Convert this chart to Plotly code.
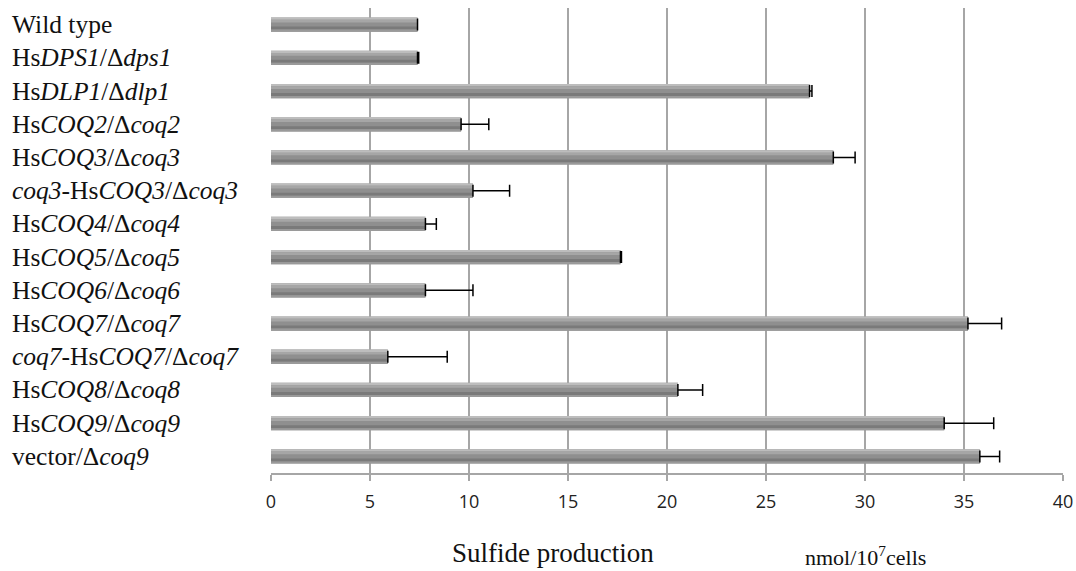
import plotly.graph_objects as go

labels = [
    "Wild type",
    "Hs<i>DPS1</i>/Δ<i>dps1</i>",
    "Hs<i>DLP1</i>/Δ<i>dlp1</i>",
    "Hs<i>COQ2</i>/Δ<i>coq2</i>",
    "Hs<i>COQ3</i>/Δ<i>coq3</i>",
    "<i>coq3</i>-Hs<i>COQ3</i>/Δ<i>coq3</i>",
    "Hs<i>COQ4</i>/Δ<i>coq4</i>",
    "Hs<i>COQ5</i>/Δ<i>coq5</i>",
    "Hs<i>COQ6</i>/Δ<i>coq6</i>",
    "Hs<i>COQ7</i>/Δ<i>coq7</i>",
    "<i>coq7</i>-Hs<i>COQ7</i>/Δ<i>coq7</i>",
    "Hs<i>COQ8</i>/Δ<i>coq8</i>",
    "Hs<i>COQ9</i>/Δ<i>coq9</i>",
    "vector/Δ<i>coq9</i>",
]
values = [7.4, 7.4, 27.2, 9.6, 28.4, 10.2, 7.8, 17.65, 7.8, 35.2, 5.9, 20.55, 34.0, 35.8]
errors = [0.0, 0.06, 0.12, 1.4, 1.1, 1.85, 0.55, 0.05, 2.4, 1.7, 3.0, 1.25, 2.5, 1.0]
x_ticks = [0, 5, 10, 15, 20, 25, 30, 35, 40]

BAR_W = 0.43
# (offset from category centre, thickness, colour) strips used to imitate the shaded bars
strips = [
    (-BAR_W / 2, BAR_W, "#8f8f8f"),
    (-BAR_W / 2, 0.07, "#bdbdbd"),
    (-BAR_W / 2 + 0.07, 0.08, "#a6a6a6"),
    (0.06, 0.09, "#7a7a7a"),
    (0.15, 0.065, "#9a9a9a"),
]

fig = go.Figure()
for off, w, col in strips:
    fig.add_trace(go.Bar(
        y=labels, x=values, orientation="h", width=w, offset=off,
        marker=dict(color=col, line=dict(width=0)),
        showlegend=False, hoverinfo="skip",
    ))
fig.add_trace(go.Bar(
    y=labels, x=values, orientation="h", width=BAR_W,
    marker=dict(color="rgba(0,0,0,0)", line=dict(width=0)),
    error_x=dict(type="data", array=errors, arrayminus=[0] * len(errors),
                 symmetric=False, color="black", thickness=1.5, width=6),
    showlegend=False, hoverinfo="skip",
))

PLOT_L, PLOT_W = 271, 792
for lab in labels:
    fig.add_annotation(
        x=(10 - PLOT_L) / PLOT_W, xref="paper", y=lab, yref="y",
        text=lab, showarrow=False, xanchor="left", yanchor="middle",
        font=dict(family="Liberation Serif", size=25.5, color="#111111"),
    )

fig.add_annotation(
    x=(553 - PLOT_L) / PLOT_W, xref="paper", y=0, yref="paper", yshift=-80,
    text="Sulfide production", showarrow=False, xanchor="center", yanchor="middle",
    font=dict(family="Liberation Serif", size=27, color="#111111"),
)
fig.add_annotation(
    x=(865 - PLOT_L) / PLOT_W, xref="paper", y=0, yref="paper", yshift=-83,
    text="nmol/10<sup>7</sup>cells", showarrow=False, xanchor="center", yanchor="middle",
    font=dict(family="Liberation Serif", size=22, color="#111111"),
)

fig.update_layout(
    width=1076, height=571, autosize=False,
    margin=dict(l=PLOT_L, r=1076 - PLOT_L - PLOT_W, t=8, b=98, autoexpand=False),
    paper_bgcolor="white", plot_bgcolor="white",
    barmode="overlay",
    xaxis=dict(
        range=[0, 40], tickvals=x_ticks, ticktext=[str(t) for t in x_ticks],
        showgrid=True, gridcolor="#a6a6a6", gridwidth=1.5,
        showline=True, linecolor="#a6a6a6", linewidth=1.5,
        ticks="outside", ticklen=6, tickcolor="#a6a6a6", tickwidth=1.5,
        ticklabelstandoff=6, automargin=False,
        tickfont=dict(family="Open Sans", size=18, color="#222222"),
        zeroline=False, mirror=False,
    ),
    yaxis=dict(
        categoryorder="array", categoryarray=labels, autorange="reversed",
        showticklabels=False, showgrid=False, zeroline=False,
        showline=False, ticks="", automargin=False,
    ),
)

fig.write_html(
    "out.html",
    config={"displayModeBar": False, "responsive": False},
    post_script="document.body.style.margin='0';document.body.style.overflow='hidden';",
)
